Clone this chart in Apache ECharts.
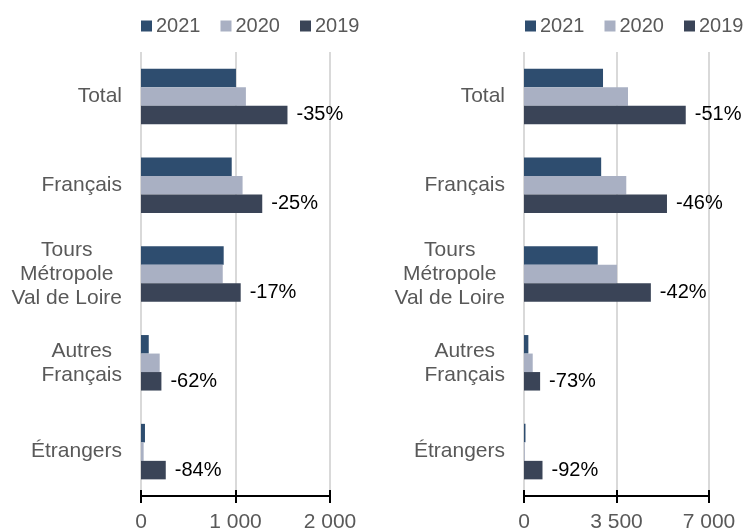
<!DOCTYPE html>
<html>
<head>
<meta charset="utf-8">
<script src="https://cdn.jsdelivr.net/npm/echarts@6/dist/echarts.min.js"></script>
<style>html,body{margin:0;padding:0;background:#fff;}#c{width:747px;height:528px;}</style>
</head>
<body>
<div id="c"></div>
<script>
const categories = ['Total', 'Français', 'Tours\nMétropole\nVal de Loire', 'Autres\nFrançais', 'Étrangers'];
const seriesNames = ['2021', '2020', '2019'];
const left2021 = [1005, 960, 875, 82, 42];
const left2020 = [1110, 1075, 865, 198, 28];
const left2019 = [1550, 1283, 1055, 216, 262];
const leftPct = ['-35%', '-25%', '-17%', '-62%', '-84%'];
const right2021 = [2990, 2920, 2790, 165, 56];
const right2020 = [3935, 3870, 3520, 330, 30];
const right2019 = [6120, 5410, 4800, 610, 700];
const rightPct = ['-51%', '-46%', '-42%', '-73%', '-92%'];
const leftTicks = { min: 0, max: 2000, interval: 1000 };
const rightTicks = { min: 0, max: 7000, interval: 3500 };

const colors = { '2021': '#2E4D6F', '2020': '#A9B0C3', '2019': '#3A4457' };
const FONT = 'Liberation Sans, Arial, sans-serif';
const GRAY = '#595959';

function fmtNum(v) {
  return String(v).replace(/\B(?=(\d{3})+(?!\d))/g, ' ');
}

const grids = [
  { left: 141, top: 52, width: 189, height: 444, outerBoundsMode: 'none', containLabel: false },
  { left: 524, top: 52, width: 185, height: 444, outerBoundsMode: 'none', containLabel: false }
];

function xAxes(gridIndex, t) {
  return [
    {
      type: 'value', gridIndex: gridIndex, min: t.min, max: t.max, interval: t.interval,
      axisLine: { show: true, lineStyle: { color: '#000', width: 2 } },
      axisTick: { show: true, length: 7, lineStyle: { color: '#000', width: 2 } },
      axisLabel: { margin: 16, color: GRAY, fontFamily: FONT, fontSize: 21, formatter: fmtNum },
      splitLine: { show: true, lineStyle: { color: '#D9D9D9', width: 2 } }
    },
    {
      type: 'value', gridIndex: gridIndex, min: t.min, max: t.max, interval: t.interval, position: 'bottom',
      axisLine: { show: false },
      axisTick: { show: true, inside: true, length: 6, lineStyle: { color: '#000', width: 2 } },
      axisLabel: { show: false },
      splitLine: { show: false }
    }
  ];
}

function yAxis(gridIndex) {
  return {
    type: 'category', gridIndex: gridIndex, data: categories, inverse: true,
    axisLine: { show: false }, axisTick: { show: false }, splitLine: { show: false },
    axisLabel: {
      margin: 19, color: GRAY, fontFamily: FONT, fontSize: 21, lineHeight: 24,
      formatter: function (v) { return v.split('\n').map(function (s) { return '{c|' + s + '}'; }).join('\n'); },
      rich: { c: { align: 'center', color: GRAY, fontFamily: FONT, fontSize: 21, lineHeight: 24 } }
    }
  };
}

function makeSeries(xIdx, yIdx, d21, d20, d19, pct) {
  const sets = [d21, d20, d19];
  return seriesNames.map(function (name, i) {
    const s = {
      name: name, type: 'bar', xAxisIndex: xIdx, yAxisIndex: yIdx,
      data: sets[i], barWidth: 18.5, barGap: '0%',
      itemStyle: { color: colors[name] },
      emphasis: { disabled: true }
    };
    if (name === '2019') {
      s.label = {
        show: true, position: 'right', distance: 9, color: '#000', fontFamily: FONT, fontSize: 20,
        formatter: function (p) { return pct[p.dataIndex]; }
      };
    }
    return s;
  });
}

function legend(left) {
  return {
    left: left, top: 16, padding: 0, itemWidth: 11, itemHeight: 11, itemGap: 20, icon: 'rect',
    data: seriesNames,
    textStyle: { color: GRAY, fontFamily: FONT, fontSize: 20, padding: [0, 0, 0, -1] }
  };
}

const chart = echarts.init(document.getElementById('c'), null, { renderer: 'canvas' });
chart.setOption({
  animation: false,
  backgroundColor: '#fff',
  legend: [legend(141), legend(525)],
  grid: grids,
  xAxis: xAxes(0, leftTicks).concat(xAxes(1, rightTicks)),
  yAxis: [yAxis(0), yAxis(1)],
  series: makeSeries(0, 0, left2021, left2020, left2019, leftPct)
    .concat(makeSeries(2, 1, right2021, right2020, right2019, rightPct))
});
</script>
</body>
</html>
